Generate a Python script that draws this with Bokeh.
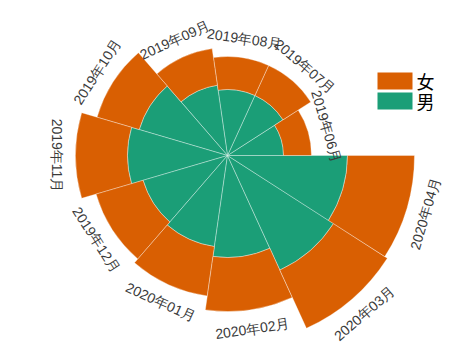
import math
from bokeh.plotting import figure
from bokeh.models import ColumnDataSource
from bokeh.core.properties import value
from bokeh.embed import file_html
from bokeh.resources import INLINE

# ---- data ----
months = ["2019年06月", "2019年07月", "2019年08月", "2019年09月", "2019年10月",
          "2019年11月", "2019年12月", "2020年01月", "2020年02月", "2020年03月", "2020年04月"]
male = [56, 66, 66, 71, 92, 100, 88, 92, 102, 126, 120]
female = [28, 33, 33, 37, 44, 52, 49, 50, 54, 64, 67]
series_names = ["女", "男"]
colors = ["#d95f02", "#1b9e77"]

W, H = 457, 347
cx, cy = 227, 155  # centre of the rose in screen px (from top-left of figure)

p = figure(width=W, height=H, output_backend="svg", toolbar_location=None,
           x_range=(-cx, W - cx), y_range=(-(H - cy), cy),
           x_axis_type=None, y_axis_type=None, min_border=0)
p.outline_line_color = None
p.grid.visible = False
p.background_fill_color = "white"
p.border_fill_color = "white"

n = len(months)
w = 2 * math.pi / n
starts = [i * w for i in range(n)]
ends = [(i + 1) * w for i in range(n)]
totals = [m + f for m, f in zip(male, female)]

src = ColumnDataSource(dict(start=starts, end=ends, male=male, total=totals,
                            zero=[0] * n))

p.annular_wedge(x=0, y=0, inner_radius="zero", outer_radius="male",
                start_angle="start", end_angle="end", source=src,
                fill_color=colors[1], line_color="white", line_alpha=0.35, line_width=1)
p.annular_wedge(x=0, y=0, inner_radius="male", outer_radius="total",
                start_angle="start", end_angle="end", source=src,
                fill_color=colors[0], line_color="white", line_alpha=0.35, line_width=1)

# labels
lx, ly, la = [], [], []
for i in range(n):
    th = (i + 0.5) * w
    r = totals[i] + 19
    lx.append(r * math.cos(th))
    ly.append(r * math.sin(th))
    if th < math.pi - 1e-9:
        la.append(th - math.pi / 2)
    else:
        la.append(th + math.pi / 2)
lsrc = ColumnDataSource(dict(x=lx, y=ly, a=la, t=months))
p.text(x="x", y="y", text="t", angle="a", source=lsrc,
       text_align="center", text_baseline="middle",
       text_font=value("Liberation Sans"), text_font_size="14px", text_color="#3a3a3a")

# legend (manual)
leg_y = [74.5, 54.5]
p.rect(x=[167.5, 167.5], y=leg_y, width=35, height=17, fill_color=colors, line_color=None)
p.text(x=[189, 189], y=leg_y, text=series_names, text_align="left", text_baseline="middle",
       text_font=value("Noto Sans CJK SC"), text_font_size="18px", text_color="black")

open("out.html", "w").write(file_html(p, INLINE))
